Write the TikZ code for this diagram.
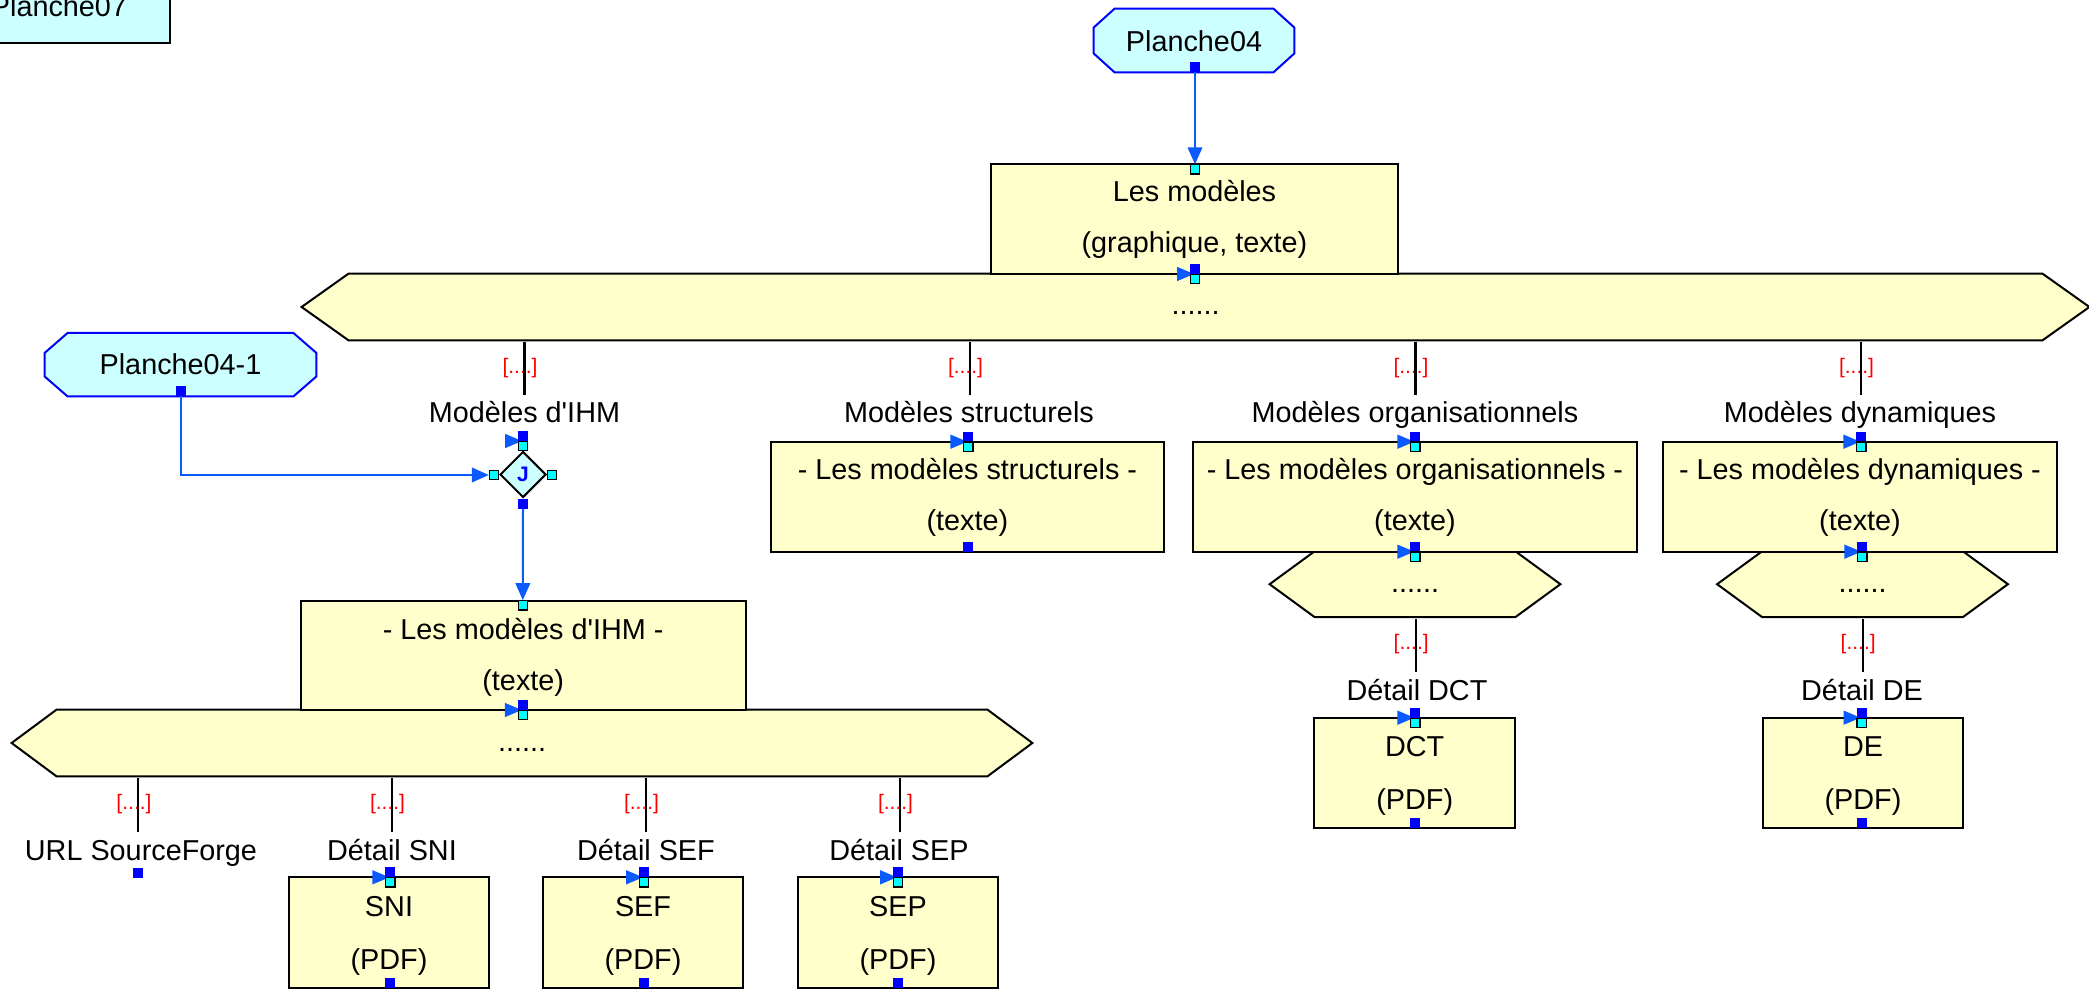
\documentclass[tikz,border=0pt]{standalone}
\usepackage{fontspec}
\setmainfont{Liberation Sans}
\usetikzlibrary{shapes.geometric,arrows.meta}
\pgfdeclarelayer{background}
\pgfsetlayers{background,main}
\definecolor{boxfill}{HTML}{FFFFCC}
\definecolor{octfill}{HTML}{CCFFFF}
\definecolor{octblue}{HTML}{0000FF}
\definecolor{connblue}{HTML}{0A5AFF}
\definecolor{portblue}{HTML}{0000FF}
\definecolor{portcyan}{HTML}{00FFFF}
\definecolor{redtxt}{HTML}{FF0000}
\tikzset{
 mainfont/.style={font=\fontsize{14.4pt}{17pt}\selectfont},
 ybox/.style={draw=black, line width=1pt, fill=boxfill, inner sep=0pt},
 hexnode/.style={inner sep=0pt, mainfont, text height=11pt, text depth=3pt},
 hexline/.style={draw=black, line width=1pt, fill=boxfill},
 octnode/.style={inner sep=0pt, mainfont, text depth=3pt},
 octline/.style={draw=octblue, line width=1pt, fill=octfill},
 txt/.style={mainfont, anchor=base, inner sep=0pt},
 lbl/.style={mainfont, anchor=base, text height=10.5pt, text depth=3pt, inner xsep=2pt, inner ysep=3.35pt},
 rlbl/.style={font=\fontsize{10.5pt}{12pt}\selectfont, text=redtxt, anchor=base, inner sep=0pt},
 branch/.style={draw=black, line width=1.1pt},
 conn/.style={draw=connblue, line width=1pt, -{Triangle[length=8.5pt,width=7.3pt]}},
 portout/.style={fill=portblue, minimum size=5pt, inner sep=0pt},
 portin/.style={fill=portcyan, draw=black, line width=0.6pt, minimum size=4.6pt, inner sep=0pt},
 ltri/.style={fill=connblue},
}
\newcommand\mkhex[2]{%
 \path[hexline] (#1.west) -- ([xshift=#2]#1.north west) -- ([xshift=-#2]#1.north east) -- (#1.east) -- ([xshift=-#2]#1.south east) -- ([xshift=#2]#1.south west) -- cycle;}
\newcommand\mkoct[3]{%
 \path[octline] ([xshift=#2]#1.north west) -- ([xshift=-#2]#1.north east) -- ([yshift=-#3]#1.north east) -- ([yshift=#3]#1.south east) -- ([xshift=-#2]#1.south east) -- ([xshift=#2]#1.south west) -- ([yshift=#3]#1.south west) -- ([yshift=-#3]#1.north west) -- cycle;}
\newcommand\plink[4]{%
 \fill[ltri] ([xshift=-0.5pt]#3,#4) -- ([xshift=-9pt,yshift=3.6pt]#3,#4) -- ([xshift=-9pt,yshift=-3.6pt]#3,#4) -- cycle;
 \node[portout] (#1) at ([yshift=2.5pt]#3,#4) {};
 \node[portin] (#2) at ([yshift=-2.5pt]#3,#4) {};}
\begin{document}
\begin{tikzpicture}[x=0.5pt,y=-0.5pt]
\useasboundingbox (0,0) rectangle (2089,994);
\begin{pgfonlayer}{background}\fill[white] (0,0) rectangle (2089,994);\end{pgfonlayer}

% Planche07
\node[draw=black, line width=1pt, fill=octfill, minimum width=111pt, minimum height=41.5pt, inner sep=0pt, mainfont, text height=18.5pt, text depth=3pt] (p07) at (59,1.5) {Planche07};

% octagons
\node[octnode, minimum width=100pt, minimum height=31.5pt, text height=14.5pt] (p04) at (1194,40.5) {Planche04};
\node[octnode, minimum width=135.5pt, minimum height=31.35pt, text height=13.3pt] (p041) at (180.5,364.7) {Planche04-1};

% hexagons
\node[hexnode, minimum width=893.5pt, minimum height=33pt] (h1) at (1195.5,307) {......};
\node[hexnode, minimum width=510pt, minimum height=33pt] (h2) at (522,743) {......};
\node[hexnode, minimum width=145pt, minimum height=32.5pt] (h3) at (1415,584.2) {......};
\node[hexnode, minimum width=145pt, minimum height=32.5pt] (h4) at (1862.5,584.2) {......};

\begin{pgfonlayer}{background}
\mkoct{p04}{10.5pt}{9.5pt}
\mkoct{p041}{11.5pt}{10pt}
\mkhex{h1}{23.5pt}
\mkhex{h2}{22.5pt}
\mkhex{h3}{22.5pt}
\mkhex{h4}{22.5pt}
\end{pgfonlayer}

% boxes
\node[ybox, minimum width=203.5pt, minimum height=55pt] (lm) at (1194.5,219) {};
\node[txt] (lm1) at (1194.5,202) {Les modèles};
\node[txt] (lm2) at (1194.5,253) {(graphique, texte)};

\node[ybox, minimum width=196.65pt, minimum height=55pt] (str) at (967.4,496.7) {};
\node[txt] (str1) at (967.4,479.5) {- Les modèles structurels -};
\node[txt] (str2) at (967.4,530.5) {(texte)};

\node[ybox, minimum width=221.7pt, minimum height=55pt] (org) at (1415,496.7) {};
\node[txt] (org1) at (1415,479.5) {- Les modèles organisationnels -};
\node[txt] (org2) at (1415,530.5) {(texte)};

\node[ybox, minimum width=196.7pt, minimum height=55pt] (dyn) at (1860,496.7) {};
\node[txt] (dyn1) at (1860,479.5) {- Les modèles dynamiques -};
\node[txt] (dyn2) at (1860,530.5) {(texte)};

\node[ybox, minimum width=222.5pt, minimum height=54.65pt] (ihm) at (523.2,655.35) {};
\node[txt] (ihm1) at (523.2,639.3) {- Les modèles d\textquotesingle IHM -};
\node[txt] (ihm2) at (523.2,690) {(texte)};

\node[ybox, minimum width=100pt, minimum height=55.5pt] (sni) at (389,932.8) {};
\node[txt] (sni1) at (389,916) {SNI};
\node[txt] (sni2) at (389,969) {(PDF)};

\node[ybox, minimum width=100.3pt, minimum height=55.5pt] (sef) at (643,932.8) {};
\node[txt] (sef1) at (643,916) {SEF};
\node[txt] (sef2) at (643,969) {(PDF)};

\node[ybox, minimum width=100.3pt, minimum height=55.5pt] (sep) at (898,932.8) {};
\node[txt] (sep1) at (898,916) {SEP};
\node[txt] (sep2) at (898,969) {(PDF)};

\node[ybox, minimum width=100.35pt, minimum height=55.3pt] (dct) at (1414.7,773) {};
\node[txt] (dct1) at (1414.7,756) {DCT};
\node[txt] (dct2) at (1414.7,809.5) {(PDF)};

\node[ybox, minimum width=100pt, minimum height=55.3pt] (de) at (1863,773) {};
\node[txt] (de1) at (1863,756) {DE};
\node[txt] (de2) at (1863,809.5) {(PDF)};

% J diamond
\node[diamond, draw=black, line width=1pt, fill=octfill, minimum width=23pt, minimum height=23pt, inner sep=0pt, font=\bfseries\fontsize{10.5pt}{12pt}\selectfont, text=portblue] (J) at (523,474.5) {J};

% labels
\node[lbl] (lihm) at (524.5,422.7) {Modèles d\textquotesingle IHM};
\node[lbl] (lstr) at (969,422.7) {Modèles structurels};
\node[lbl] (lorg) at (1415,422.7) {Modèles organisationnels};
\node[lbl] (ldyn) at (1860,422.7) {Modèles dynamiques};
\node[lbl] (lurl) at (141,860) {URL SourceForge};
\node[lbl] (lsni) at (392,860) {Détail SNI};
\node[lbl] (lsef) at (646,860) {Détail SEF};
\node[lbl] (lsep) at (899,860) {Détail SEP};
\node[lbl] (ldct) at (1417,700) {Détail DCT};
\node[lbl] (lde) at (1862,700) {Détail DE};

% red labels
\node[rlbl] (r1) at (520,374) {[....]};
\node[rlbl] (r2) at (965.5,374) {[....]};
\node[rlbl] (r3) at (1411,374) {[....]};
\node[rlbl] (r4) at (1856.5,374) {[....]};
\node[rlbl] (r5) at (134,809) {[....]};
\node[rlbl] (r6) at (387.5,809) {[....]};
\node[rlbl] (r7) at (641.5,809) {[....]};
\node[rlbl] (r8) at (895.5,809) {[....]};
\node[rlbl] (r9) at (1411.2,649) {[....]};
\node[rlbl] (r10) at (1858.2,649) {[....]};

% branch points on hexagon bottoms
\coordinate (b1) at (524.5,342);
\coordinate (b2) at (970,342);
\coordinate (b3) at (1415.5,342);
\coordinate (b4) at (1861,342);
\coordinate (b5) at (138.3,778);
\coordinate (b6) at (392,778);
\coordinate (b7) at (646,778);
\coordinate (b8) at (900,778);
\coordinate (b9) at (1415.7,619);
\coordinate (b10) at (1862.7,619);

\draw[branch] (b1) -- (b1 |- lihm.north);
\draw[branch] (b2) -- (b2 |- lstr.north);
\draw[branch] (b3) -- (b3 |- lorg.north);
\draw[branch] (b4) -- (b4 |- ldyn.north);
\draw[branch] (b5) -- (b5 |- lurl.north);
\draw[branch] (b6) -- (b6 |- lsni.north);
\draw[branch] (b7) -- (b7 |- lsef.north);
\draw[branch] (b8) -- (b8 |- lsep.north);
\draw[branch] (b9) -- (b9 |- ldct.north);
\draw[branch] (b10) -- (b10 |- lde.north);

% direct links (triangle + out/in ports)
\plink{lmo}{h1i}{1195}{274}
\plink{lihmo}{jt}{523}{441}
\plink{lstro}{stri}{968.3}{441.7}
\plink{lorgo}{orgi}{1415.3}{441.7}
\plink{ldyno}{dyni}{1861.3}{441.7}
\plink{ihmo}{h2i}{522.8}{710}
\plink{orgo}{h3i}{1415.3}{551.7}
\plink{dyno}{h4i}{1862.3}{551.7}
\plink{lsnio}{snii}{390.3}{877.3}
\plink{lsefo}{sefi}{644}{877.3}
\plink{lsepo}{sepi}{898}{877.3}
\plink{ldcto}{dcti}{1415.3}{717.7}
\plink{ldeo}{dei}{1861.5}{717.7}

% single ports
\node[portout] (p04o) at (1195,67) {};
\node[portout] (p041o) at (181,391) {};
\node[portout] (stro) at (968.3,546.7) {};
\node[portout] (lurlo) at (138.2,872.8) {};
\node[portout] (snio) at (390.3,983) {};
\node[portout] (sefo) at (644,983) {};
\node[portout] (sepo) at (898,983) {};
\node[portout] (dcto) at (1415.3,823) {};
\node[portout] (deo) at (1862,822.5) {};
\node[portout] (jb) at (523,503.8) {};
\node[portin] (lmi) at (1195,169.5) {};
\node[portin] (jl) at (494,475) {};
\node[portin] (jr) at (551.7,475) {};
\node[portin] (ihmi) at (522.8,605.3) {};

% connectors
\draw[conn] (p04o.south) -- (lmi.north);
\draw[conn] (p041o.south) |- (jl.west);
\draw[conn] (jb.south) -- (ihmi.north);
\end{tikzpicture}
\end{document}
